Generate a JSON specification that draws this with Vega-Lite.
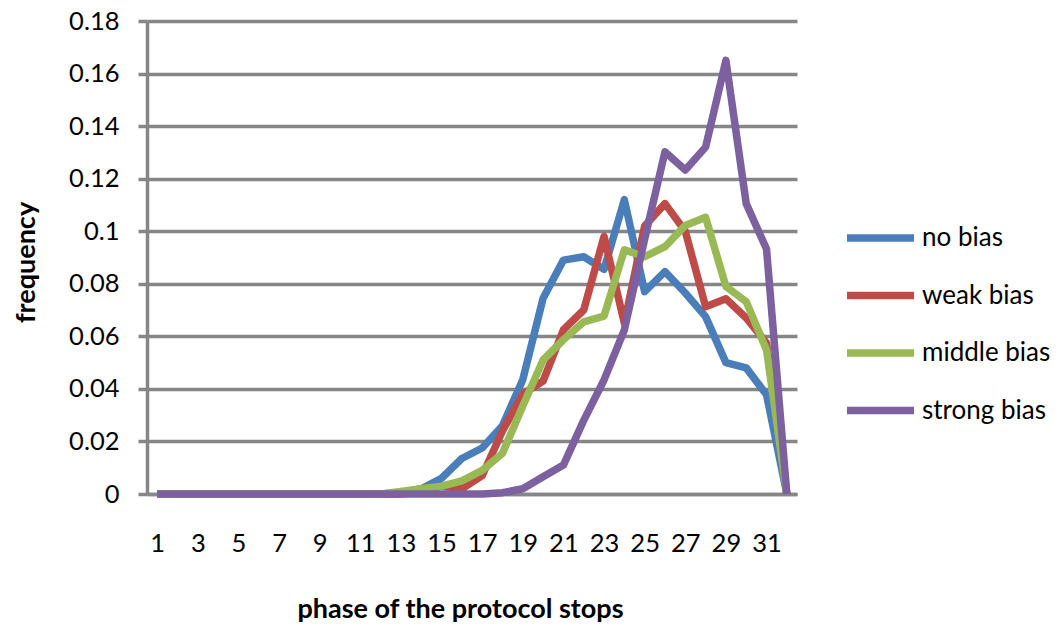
{
  "$schema": "https://vega.github.io/schema/vega-lite/v6.json",
  "width": 650,
  "height": 473,
  "autosize": {"type": "none"},
  "padding": {"left": 147, "top": 21, "right": 266, "bottom": 134},
  "background": "white",
  "config": {
    "view": {"stroke": null},
    "font": "Lato"
  },
  "data": {
    "values": [
      {"phase": 1, "series": "no bias", "frequency": 0},
      {"phase": 2, "series": "no bias", "frequency": 0},
      {"phase": 3, "series": "no bias", "frequency": 0},
      {"phase": 4, "series": "no bias", "frequency": 0},
      {"phase": 5, "series": "no bias", "frequency": 0},
      {"phase": 6, "series": "no bias", "frequency": 0},
      {"phase": 7, "series": "no bias", "frequency": 0},
      {"phase": 8, "series": "no bias", "frequency": 0},
      {"phase": 9, "series": "no bias", "frequency": 0},
      {"phase": 10, "series": "no bias", "frequency": 0},
      {"phase": 11, "series": "no bias", "frequency": 0},
      {"phase": 12, "series": "no bias", "frequency": 0},
      {"phase": 13, "series": "no bias", "frequency": 0.0005},
      {"phase": 14, "series": "no bias", "frequency": 0.002},
      {"phase": 15, "series": "no bias", "frequency": 0.006},
      {"phase": 16, "series": "no bias", "frequency": 0.0135},
      {"phase": 17, "series": "no bias", "frequency": 0.0175},
      {"phase": 18, "series": "no bias", "frequency": 0.026},
      {"phase": 19, "series": "no bias", "frequency": 0.0435},
      {"phase": 20, "series": "no bias", "frequency": 0.0745},
      {"phase": 21, "series": "no bias", "frequency": 0.089},
      {"phase": 22, "series": "no bias", "frequency": 0.0903},
      {"phase": 23, "series": "no bias", "frequency": 0.0855},
      {"phase": 24, "series": "no bias", "frequency": 0.112},
      {"phase": 25, "series": "no bias", "frequency": 0.077},
      {"phase": 26, "series": "no bias", "frequency": 0.0846},
      {"phase": 27, "series": "no bias", "frequency": 0.0765},
      {"phase": 28, "series": "no bias", "frequency": 0.0675},
      {"phase": 29, "series": "no bias", "frequency": 0.05},
      {"phase": 30, "series": "no bias", "frequency": 0.048},
      {"phase": 31, "series": "no bias", "frequency": 0.0378},
      {"phase": 32, "series": "no bias", "frequency": 0},

      {"phase": 1, "series": "weak bias", "frequency": 0},
      {"phase": 2, "series": "weak bias", "frequency": 0},
      {"phase": 3, "series": "weak bias", "frequency": 0},
      {"phase": 4, "series": "weak bias", "frequency": 0},
      {"phase": 5, "series": "weak bias", "frequency": 0},
      {"phase": 6, "series": "weak bias", "frequency": 0},
      {"phase": 7, "series": "weak bias", "frequency": 0},
      {"phase": 8, "series": "weak bias", "frequency": 0},
      {"phase": 9, "series": "weak bias", "frequency": 0},
      {"phase": 10, "series": "weak bias", "frequency": 0},
      {"phase": 11, "series": "weak bias", "frequency": 0},
      {"phase": 12, "series": "weak bias", "frequency": 0},
      {"phase": 13, "series": "weak bias", "frequency": 0},
      {"phase": 14, "series": "weak bias", "frequency": 0.001},
      {"phase": 15, "series": "weak bias", "frequency": 0.003},
      {"phase": 16, "series": "weak bias", "frequency": 0.002},
      {"phase": 17, "series": "weak bias", "frequency": 0.007},
      {"phase": 18, "series": "weak bias", "frequency": 0.024},
      {"phase": 19, "series": "weak bias", "frequency": 0.038},
      {"phase": 20, "series": "weak bias", "frequency": 0.043},
      {"phase": 21, "series": "weak bias", "frequency": 0.0625},
      {"phase": 22, "series": "weak bias", "frequency": 0.07},
      {"phase": 23, "series": "weak bias", "frequency": 0.098},
      {"phase": 24, "series": "weak bias", "frequency": 0.065},
      {"phase": 25, "series": "weak bias", "frequency": 0.102},
      {"phase": 26, "series": "weak bias", "frequency": 0.1105},
      {"phase": 27, "series": "weak bias", "frequency": 0.1},
      {"phase": 28, "series": "weak bias", "frequency": 0.0713},
      {"phase": 29, "series": "weak bias", "frequency": 0.0743},
      {"phase": 30, "series": "weak bias", "frequency": 0.067},
      {"phase": 31, "series": "weak bias", "frequency": 0.0574},
      {"phase": 32, "series": "weak bias", "frequency": 0},

      {"phase": 1, "series": "middle bias", "frequency": 0},
      {"phase": 2, "series": "middle bias", "frequency": 0},
      {"phase": 3, "series": "middle bias", "frequency": 0},
      {"phase": 4, "series": "middle bias", "frequency": 0},
      {"phase": 5, "series": "middle bias", "frequency": 0},
      {"phase": 6, "series": "middle bias", "frequency": 0},
      {"phase": 7, "series": "middle bias", "frequency": 0},
      {"phase": 8, "series": "middle bias", "frequency": 0},
      {"phase": 9, "series": "middle bias", "frequency": 0},
      {"phase": 10, "series": "middle bias", "frequency": 0},
      {"phase": 11, "series": "middle bias", "frequency": 0},
      {"phase": 12, "series": "middle bias", "frequency": 0},
      {"phase": 13, "series": "middle bias", "frequency": 0.001},
      {"phase": 14, "series": "middle bias", "frequency": 0.002},
      {"phase": 15, "series": "middle bias", "frequency": 0.003},
      {"phase": 16, "series": "middle bias", "frequency": 0.005},
      {"phase": 17, "series": "middle bias", "frequency": 0.009},
      {"phase": 18, "series": "middle bias", "frequency": 0.0155},
      {"phase": 19, "series": "middle bias", "frequency": 0.0335},
      {"phase": 20, "series": "middle bias", "frequency": 0.051},
      {"phase": 21, "series": "middle bias", "frequency": 0.0587},
      {"phase": 22, "series": "middle bias", "frequency": 0.0655},
      {"phase": 23, "series": "middle bias", "frequency": 0.0677},
      {"phase": 24, "series": "middle bias", "frequency": 0.0929},
      {"phase": 25, "series": "middle bias", "frequency": 0.0903},
      {"phase": 26, "series": "middle bias", "frequency": 0.0941},
      {"phase": 27, "series": "middle bias", "frequency": 0.1022},
      {"phase": 28, "series": "middle bias", "frequency": 0.1053},
      {"phase": 29, "series": "middle bias", "frequency": 0.079},
      {"phase": 30, "series": "middle bias", "frequency": 0.0732},
      {"phase": 31, "series": "middle bias", "frequency": 0.0548},
      {"phase": 32, "series": "middle bias", "frequency": 0},

      {"phase": 1, "series": "strong bias", "frequency": 0},
      {"phase": 2, "series": "strong bias", "frequency": 0},
      {"phase": 3, "series": "strong bias", "frequency": 0},
      {"phase": 4, "series": "strong bias", "frequency": 0},
      {"phase": 5, "series": "strong bias", "frequency": 0},
      {"phase": 6, "series": "strong bias", "frequency": 0},
      {"phase": 7, "series": "strong bias", "frequency": 0},
      {"phase": 8, "series": "strong bias", "frequency": 0},
      {"phase": 9, "series": "strong bias", "frequency": 0},
      {"phase": 10, "series": "strong bias", "frequency": 0},
      {"phase": 11, "series": "strong bias", "frequency": 0},
      {"phase": 12, "series": "strong bias", "frequency": 0},
      {"phase": 13, "series": "strong bias", "frequency": 0},
      {"phase": 14, "series": "strong bias", "frequency": 0},
      {"phase": 15, "series": "strong bias", "frequency": 0},
      {"phase": 16, "series": "strong bias", "frequency": 0},
      {"phase": 17, "series": "strong bias", "frequency": 0},
      {"phase": 18, "series": "strong bias", "frequency": 0.0005},
      {"phase": 19, "series": "strong bias", "frequency": 0.002},
      {"phase": 20, "series": "strong bias", "frequency": 0.0066},
      {"phase": 21, "series": "strong bias", "frequency": 0.011},
      {"phase": 22, "series": "strong bias", "frequency": 0.028},
      {"phase": 23, "series": "strong bias", "frequency": 0.0434},
      {"phase": 24, "series": "strong bias", "frequency": 0.0624},
      {"phase": 25, "series": "strong bias", "frequency": 0.097},
      {"phase": 26, "series": "strong bias", "frequency": 0.1302},
      {"phase": 27, "series": "strong bias", "frequency": 0.1233},
      {"phase": 28, "series": "strong bias", "frequency": 0.132},
      {"phase": 29, "series": "strong bias", "frequency": 0.165},
      {"phase": 30, "series": "strong bias", "frequency": 0.1105},
      {"phase": 31, "series": "strong bias", "frequency": 0.0932},
      {"phase": 32, "series": "strong bias", "frequency": 0}
    ]
  },
  "mark": {"type": "line", "strokeWidth": 7.5, "strokeJoin": "round"},
  "encoding": {
    "x": {
      "field": "phase",
      "type": "ordinal",
      "sort": "ascending",
      "scale": {"type": "point", "padding": 0.5},
      "axis": {
        "title": "phase of the protocol stops",
        "values": [1, 3, 5, 7, 9, 11, 13, 15, 17, 19, 21, 23, 25, 27, 29, 31],
        "labelAngle": 0,
        "labelFont": "Lato",
        "labelFontSize": 25.5,
        "labelColor": "#000000",
        "labelPadding": 37,
        "ticks": false,
        "domain": true,
        "domainColor": "#868686",
        "domainWidth": 3.5,
        "grid": false,
        "titleFont": "Lato",
        "titleFontSize": 27,
        "titleFontWeight": "bold",
        "titleColor": "#000000",
        "titleX": 313,
        "titleY": 123,
        "titleBaseline": "alphabetic"
      }
    },
    "y": {
      "field": "frequency",
      "type": "quantitative",
      "scale": {"domain": [0, 0.18], "nice": false},
      "axis": {
        "title": "frequency",
        "values": [0, 0.02, 0.04, 0.06, 0.08, 0.1, 0.12, 0.14, 0.16, 0.18],
        "format": ".2~f",
        "labelFont": "Lato",
        "labelFontSize": 25.5,
        "labelColor": "#000000",
        "labelPadding": 19,
        "tickSize": 9,
        "tickWidth": 3.5,
        "tickColor": "#868686",
        "domain": true,
        "domainColor": "#868686",
        "domainWidth": 3.5,
        "grid": true,
        "gridColor": "#868686",
        "gridWidth": 3.5,
        "titleFont": "Lato",
        "titleFontSize": 27,
        "titleFontWeight": "bold",
        "titleColor": "#000000",
        "titleX": -121,
        "titleY": 241,
        "titleBaseline": "middle"
      }
    },
    "color": {
      "field": "series",
      "type": "nominal",
      "sort": ["no bias", "weak bias", "middle bias", "strong bias"],
      "scale": {
        "domain": ["no bias", "weak bias", "middle bias", "strong bias"],
        "range": ["#4A7EBB", "#BE4B48", "#98B954", "#7D60A0"]
      },
      "legend": {
        "title": null,
        "orient": "none",
        "legendX": 696,
        "legendY": 202,
        "padding": 0,
        "symbolType": "stroke",
        "symbolSize": 4489,
        "symbolStrokeWidth": 7.5,
        "clipHeight": 30,
        "rowPadding": 27.5,
        "labelOffset": 4,
        "labelFont": "Lato",
        "labelFontSize": 26,
        "labelColor": "#000000",
        "labelLimit": 300
      }
    }
  }
}
